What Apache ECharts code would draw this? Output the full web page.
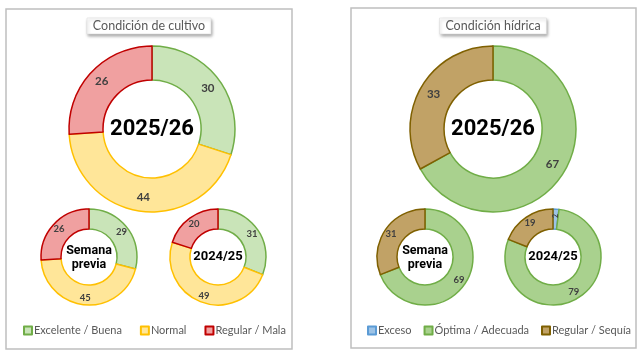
<!DOCTYPE html>
<html><head><meta charset="utf-8">
<script src="https://cdn.jsdelivr.net/npm/echarts@6/dist/echarts.min.js"></script>
<style>html,body{margin:0;padding:0;background:#fff}#c{width:640px;height:362px}</style>
</head><body><div id="c"></div><script>
// ---- data ----
const cropCats = ['Excelente / Buena', 'Normal', 'Regular / Mala'];
const cropNow = [30, 44, 26];
const cropPrev = [29, 45, 26];
const cropLast = [31, 49, 20];
const waterCats = ['Exceso', 'Óptima / Adecuada', 'Regular / Sequía'];
const waterNow = [0, 67, 33];
const waterPrev = [0, 69, 31];
const waterLast = [2, 79, 19];
const periodLabels = ['2025/26', 'Semana\nprevia', '2024/25'];
const panelTitles = ['Condición de cultivo', 'Condición hídrica'];

// ---- styles ----
const cropFill = ['#c9e4b8', '#ffe699', '#f0a0a0'];
const cropLine = ['#70ad47', '#ffc000', '#c00000'];
const waterFill = ['#9dc3e6', '#a9d18e', '#c1a266'];
const waterLine = ['#5b9bd5', '#70ad47', '#7f6000'];

function makeData(cats, vals, fill, line) {
  return cats.map((n, i) => ({
    name: n, value: vals[i],
    itemStyle: { color: fill[i], borderColor: line[i], borderWidth: 1.5 },
    label: { show: vals[i] > 0 }
  }));
}
function pie(center, radius, cats, vals, fill, line, fs) {
  return {
    type: 'pie', center: center, radius: radius, startAngle: 90, clockwise: true,
    avoidLabelOverlap: false, silent: true, animation: false,
    label: { show: true, position: 'inside', formatter: '{c}', color: '#404040',
      fontFamily: 'Lato', fontWeight: 'bold', fontSize: fs },
    labelLine: { show: false },
    data: makeData(cats, vals, fill, line)
  };
}

const series = [
  pie([152, 129], [49, 83], cropCats, cropNow, cropFill, cropLine, 11.5),
  pie([89, 257], [28, 48], cropCats, cropPrev, cropFill, cropLine, 9.5),
  pie([218, 257], [28, 48], cropCats, cropLast, cropFill, cropLine, 9.5),
  pie([493, 129], [49, 83], waterCats, waterNow, waterFill, waterLine, 11.5),
  pie([425, 257], [28, 48], waterCats, waterPrev, waterFill, waterLine, 9.5),
  pie([553, 257], [28, 48], waterCats, waterLast, waterFill, waterLine, 9.5)
];
series[5].data[0].label = { show: true, fontSize: 7, rotate: 90 };

function centerText(x, y, txt, fs) {
  return { type: 'text', x: x, y: y, style: {
    text: txt, align: 'center', verticalAlign: 'middle',
    fontFamily: 'Roboto', fontWeight: 'bold', fontSize: fs,
    lineHeight: fs + 2, fill: '#000' } };
}
function titleBox(cx, w, txt) {
  return [
    { type: 'rect', shape: { x: cx - w / 2, y: 18, width: w, height: 16 },
      style: { fill: '#fff', stroke: '#d9d9d9', lineWidth: 0.5,
        shadowBlur: 3, shadowOffsetX: 1, shadowOffsetY: 2, shadowColor: 'rgba(0,0,0,0.35)' } },
    { type: 'text', x: cx, y: 26, style: { text: txt, align: 'center', verticalAlign: 'middle',
      fontFamily: 'Lato', fontSize: 12.5, fill: '#595959' } }
  ];
}

const graphic = [
  { type: 'rect', shape: { x: 6, y: 9, width: 286, height: 340 },
    style: { fill: 'none', stroke: '#bfbfbf', lineWidth: 1.5 } },
  { type: 'rect', shape: { x: 351, y: 8, width: 285, height: 340 },
    style: { fill: 'none', stroke: '#bfbfbf', lineWidth: 1.5 } },
  ...titleBox(149, 124, panelTitles[0]),
  ...titleBox(493, 107, panelTitles[1]),
  centerText(152, 129, periodLabels[0], 22),
  centerText(89, 258, periodLabels[1], 12.5),
  centerText(218, 257, periodLabels[2], 13),
  centerText(493, 129, periodLabels[0], 22),
  centerText(425, 258, periodLabels[1], 12.5),
  centerText(553, 257, periodLabels[2], 13)
];

const legendCommon = { orient: 'horizontal', icon: 'rect', itemWidth: 8, itemHeight: 8,
  top: 325, selectedMode: false, padding: 0,
  textStyle: { fontFamily: 'Lato', fontSize: 11, color: '#595959', padding: [0, 0, 0, -3] } };

const chart = echarts.init(document.getElementById('c'), null, { renderer: 'canvas' });
chart.setOption({
  backgroundColor: '#fff',
  animation: false,
  legend: [
    Object.assign({}, legendCommon, { left: 23, width: 270, itemGap: 18, data: cropCats }),
    Object.assign({}, legendCommon, { left: 367, width: 270, itemGap: 12, data: waterCats })
  ],
  series: series,
  graphic: graphic
});
</script></body></html>
